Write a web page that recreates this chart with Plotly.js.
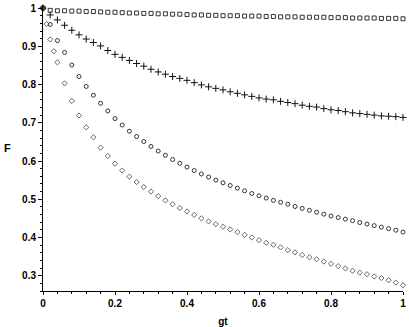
<!DOCTYPE html>
<html>
<head>
<meta charset="utf-8">
<script src="https://cdn.plot.ly/plotly-3.0.1.min.js"></script>
<style>
  html, body { margin: 0; padding: 0; background: #fff; }
  #graphPlotChart { width: 409px; height: 327px; }
</style>
</head>
<body>
<div id="graphPlotChart"></div>
<script>
// gt sampled every 0.02 (squares, crosses, circles)
const gtGrid = [0, 0.02, 0.04, 0.06, 0.08, 0.10, 0.12, 0.14, 0.16, 0.18,
    0.20, 0.22, 0.24, 0.26, 0.28, 0.30, 0.32, 0.34, 0.36, 0.38,
    0.40, 0.42, 0.44, 0.46, 0.48, 0.50, 0.52, 0.54, 0.56, 0.58,
    0.60, 0.62, 0.64, 0.66, 0.68, 0.70, 0.72, 0.74, 0.76, 0.78,
    0.80, 0.82, 0.84, 0.86, 0.88, 0.90, 0.92, 0.94, 0.96, 0.98, 1.00];

const fSquare = [1.0, 0.994, 0.993, 0.993, 0.992, 0.992, 0.991, 0.991, 0.990, 0.989,
    0.989, 0.988, 0.987, 0.987, 0.986, 0.986, 0.985, 0.985, 0.984, 0.984,
    0.983, 0.982, 0.982, 0.981, 0.981, 0.980, 0.980, 0.980, 0.979, 0.979,
    0.979, 0.978, 0.978, 0.977, 0.977, 0.977, 0.976, 0.976, 0.976, 0.976,
    0.975, 0.975, 0.975, 0.974, 0.974, 0.974, 0.974, 0.973, 0.973, 0.973, 0.972];

const fCross = [1.0, 0.982, 0.969, 0.955, 0.942, 0.930, 0.919, 0.910, 0.901, 0.889,
    0.879, 0.871, 0.863, 0.855, 0.848, 0.840, 0.833, 0.827, 0.821, 0.816,
    0.811, 0.805, 0.799, 0.794, 0.790, 0.786, 0.781, 0.777, 0.773, 0.769,
    0.765, 0.762, 0.760, 0.756, 0.753, 0.750, 0.746, 0.743, 0.741, 0.737,
    0.734, 0.732, 0.729, 0.726, 0.724, 0.722, 0.720, 0.718, 0.717, 0.716, 0.714];

const fCircle = [1.0, 0.957, 0.915, 0.884, 0.851, 0.821, 0.795, 0.772, 0.751, 0.731,
    0.711, 0.694, 0.678, 0.664, 0.651, 0.638, 0.626, 0.615, 0.604, 0.594,
    0.584, 0.575, 0.566, 0.558, 0.550, 0.543, 0.536, 0.529, 0.522, 0.515,
    0.509, 0.503, 0.497, 0.492, 0.487, 0.481, 0.476, 0.471, 0.466, 0.461,
    0.456, 0.452, 0.448, 0.444, 0.439, 0.435, 0.431, 0.427, 0.423, 0.419, 0.414];

// diamonds have extra points near the start
const gtDiamond = [0, 0.01, 0.02, 0.03, 0.04, 0.06, 0.08, 0.10, 0.12, 0.14, 0.16, 0.18,
    0.20, 0.22, 0.24, 0.26, 0.28, 0.30, 0.32, 0.34, 0.36, 0.38,
    0.40, 0.42, 0.44, 0.46, 0.48, 0.50, 0.52, 0.54, 0.56, 0.58,
    0.60, 0.62, 0.64, 0.66, 0.68, 0.70, 0.72, 0.74, 0.76, 0.78,
    0.80, 0.82, 0.84, 0.86, 0.88, 0.90, 0.92, 0.94, 0.96, 0.98, 1.00];

const fDiamond = [1.0, 0.958, 0.918, 0.887, 0.858, 0.803, 0.757, 0.719, 0.688, 0.662, 0.635, 0.613,
    0.593, 0.575, 0.559, 0.545, 0.532, 0.520, 0.508, 0.497, 0.487, 0.477,
    0.468, 0.459, 0.450, 0.442, 0.435, 0.428, 0.421, 0.414, 0.407, 0.400,
    0.393, 0.386, 0.381, 0.374, 0.367, 0.361, 0.354, 0.348, 0.343, 0.337,
    0.331, 0.325, 0.319, 0.313, 0.308, 0.304, 0.298, 0.294, 0.288, 0.282, 0.275];

const yTickVals = [0.3, 0.4, 0.5, 0.6, 0.7, 0.8, 0.9, 1];
const yTickText = ['0.3', '0.4', '0.5', '0.6', '0.7', '0.8', '0.9', '1'];
const xTickVals = [0, 0.2, 0.4, 0.6, 0.8, 1];
const xTickText = ['0', '0.2', '0.4', '0.6', '0.8', '1'];

function pointTrace(x, y, symbol, color, size) {
    return {
        x: x,
        y: y,
        type: 'scatter',
        mode: 'markers',
        cliponaxis: false,
        hoverinfo: 'skip',
        marker: {
            symbol: symbol,
            size: size,
            color: color,
            line: { color: color, width: 1 }
        }
    };
}

let traces = [
    pointTrace(gtDiamond, fDiamond, 'diamond-open', '#666', 4),
    pointTrace(gtGrid, fCircle, 'circle-open', '#333', 4),
    pointTrace(gtGrid, fCross, 'cross-thin-open', '#111', 5),
    pointTrace(gtGrid, fSquare, 'square-open', '#333', 4)
];

let tickFont = { family: 'Liberation Sans, Arial, sans-serif', size: 10, color: '#000', weight: 'bold' };

let layout = {
    width: 409,
    height: 327,
    showlegend: false,
    paper_bgcolor: '#fff',
    plot_bgcolor: '#fff',
    margin: { l: 43, r: 6, t: 5, b: 36 },
    xaxis: {
        range: [0, 1],
        showgrid: false,
        zeroline: false,
        showline: true,
        linecolor: '#000',
        linewidth: 1,
        ticks: 'outside',
        ticklen: 3,
        tickcolor: '#000',
        tickvals: xTickVals,
        ticktext: xTickText,
        tickfont: tickFont,
        minor: { dtick: 0.04, ticks: 'outside', ticklen: 2, tickcolor: '#000', showgrid: false },
        title: { text: 'gt', font: tickFont, standoff: 14 }
    },
    yaxis: {
        range: [0.26, 1.008],
        showgrid: false,
        zeroline: false,
        showline: true,
        linecolor: '#000',
        linewidth: 1,
        ticks: 'outside',
        ticklen: 4,
        tickcolor: '#000',
        tickvals: yTickVals,
        ticktext: yTickText,
        tickfont: tickFont,
        minor: { dtick: 0.02, ticks: 'outside', ticklen: 2, tickcolor: '#000', showgrid: false }
    },
    // upright axis label for F, as in the original
    annotations: [{
        text: 'F',
        xref: 'paper',
        yref: 'paper',
        x: -0.1,
        y: 0.5,
        xanchor: 'center',
        yanchor: 'middle',
        showarrow: false,
        font: { family: 'Liberation Sans, Arial, sans-serif', size: 11, color: '#000', weight: 'bold' }
    }]
};

Plotly.newPlot('graphPlotChart', traces, layout, { displayModeBar: false, staticPlot: true });
</script>
</body>
</html>
